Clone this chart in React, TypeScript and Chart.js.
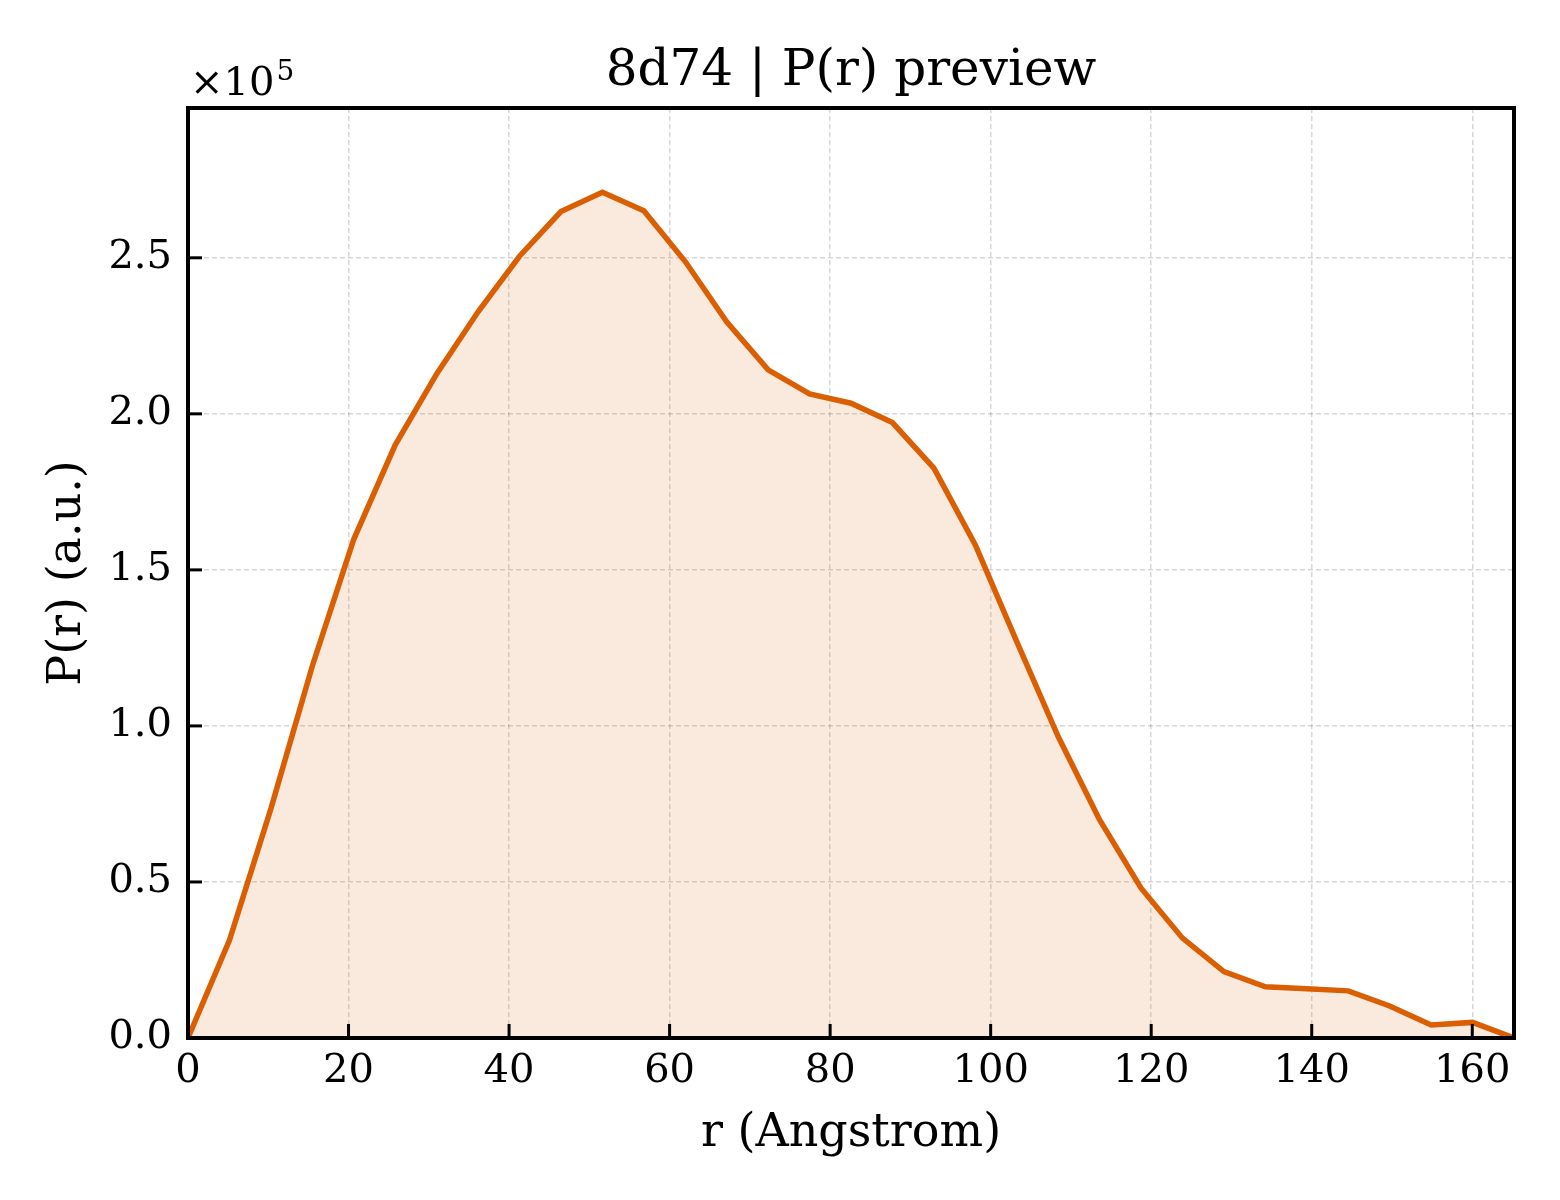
import { useEffect, useRef } from 'react';
import { Chart, registerables, type ChartConfiguration, type Plugin } from 'chart.js';

Chart.register(...registerables);

// r in Angstrom, P(r) in arbitrary units
const rValues = [
  0, 5.16, 10.33, 15.49, 20.65, 25.81, 30.98, 36.14, 41.3, 46.46, 51.63,
  56.79, 61.95, 67.11, 72.28, 77.44, 82.6, 87.76, 92.93, 98.09, 103.25,
  108.41, 113.58, 118.74, 123.9, 129.06, 134.23, 139.39, 144.55, 149.71,
  154.88, 160.04, 165.2,
];
const pValues = [
  0, 31300, 73500, 119200, 159800, 190000, 212800, 232700, 250500, 264800,
  271000, 265100, 248800, 229500, 214100, 206400, 203400, 197200, 182600,
  158000, 127000, 96600, 69900, 48000, 32000, 21250, 16400, 15800, 15100,
  10250, 4200, 5000, 0,
];
const xTicks = [0, 20, 40, 60, 80, 100, 120, 140, 160];
const yTicks = [0, 50000, 100000, 150000, 200000, 250000];

const TITLE = '8d74 | P(r) preview';
const X_LABEL = 'r (Angstrom)';
const Y_LABEL = 'P(r) (a.u.)';

const SERIF = '"DejaVu Serif", "Liberation Serif", serif';
const LINE_COLOR = '#d95f02';
const FILL_COLOR = 'rgba(217, 95, 2, 0.13)';
const GRID_COLOR = 'rgba(0, 0, 0, 0.16)';

// frame, inward ticks, title, axis labels and the x10^5 offset text
const decorations: Plugin<'line'> = {
  id: 'decorations',
  afterDraw(chart) {
    const { ctx, chartArea: area } = chart;
    const xs = chart.scales.x;
    const ys = chart.scales.y;
    ctx.save();
    ctx.strokeStyle = '#000';
    ctx.lineWidth = 3;
    xTicks.forEach((v) => {
      const px = xs.getPixelForValue(v);
      ctx.beginPath();
      ctx.moveTo(px, area.bottom);
      ctx.lineTo(px, area.bottom - 14);
      ctx.stroke();
    });
    yTicks.forEach((v) => {
      const py = ys.getPixelForValue(v);
      ctx.beginPath();
      ctx.moveTo(area.left, py);
      ctx.lineTo(area.left + 14, py);
      ctx.stroke();
    });
    ctx.lineWidth = 4;
    ctx.strokeRect(area.left, area.top, area.right - area.left, area.bottom - area.top);

    ctx.fillStyle = '#000';
    const cx = (area.left + area.right) / 2;
    ctx.textAlign = 'center';
    ctx.textBaseline = 'alphabetic';
    ctx.font = `50px ${SERIF}`;
    ctx.fillText(TITLE, cx, 85);
    ctx.font = `46px ${SERIF}`;
    ctx.fillText(X_LABEL, cx, 1146);
    ctx.save();
    ctx.translate(80, (area.top + area.bottom) / 2);
    ctx.rotate(-Math.PI / 2);
    ctx.fillText(Y_LABEL, 0, 0);
    ctx.restore();

    ctx.textAlign = 'left';
    ctx.font = `40px ${SERIF}`;
    ctx.fillText('×10', 190, 95);
    const w = ctx.measureText('×10').width;
    ctx.font = `28px ${SERIF}`;
    ctx.fillText('5', 190 + w + 2, 80);
    ctx.restore();
  },
};

export default function App() {
  const canvasRef = useRef<HTMLCanvasElement | null>(null);

  useEffect(() => {
    document.body.style.margin = '0';
    if (!canvasRef.current) return;

    const config: ChartConfiguration<'line'> = {
      type: 'line',
      data: {
        datasets: [
          {
            data: rValues.map((r, i) => ({ x: r, y: pValues[i] })),
            borderColor: LINE_COLOR,
            borderWidth: 5.5,
            backgroundColor: FILL_COLOR,
            fill: 'origin',
            pointRadius: 0,
            tension: 0,
          },
        ],
      },
      options: {
        animation: false,
        responsive: false,
        layout: { padding: { top: 108, right: 46, bottom: 0, left: 0 } },
        plugins: {
          legend: { display: false },
          tooltip: { enabled: false },
          title: { display: false },
        },
        scales: {
          x: {
            type: 'linear',
            min: 0,
            max: 165.2,
            afterBuildTicks: (scale) => {
              scale.ticks = xTicks.map((value) => ({ value }));
            },
            afterFit: (scale) => {
              scale.height = 162;
            },
            grid: { color: GRID_COLOR, lineWidth: 1.5, drawTicks: false },
            border: { display: false, dash: [5, 3] },
            ticks: {
              color: '#000',
              padding: 10,
              maxRotation: 0,
              font: { family: SERIF, size: 40 },
            },
          },
          y: {
            type: 'linear',
            min: 0,
            max: 298000,
            afterBuildTicks: (scale) => {
              scale.ticks = yTicks.map((value) => ({ value }));
            },
            afterFit: (scale) => {
              scale.width = 188;
            },
            grid: { color: GRID_COLOR, lineWidth: 1.5, drawTicks: false },
            border: { display: false, dash: [5, 3] },
            ticks: {
              color: '#000',
              padding: 16,
              font: { family: SERIF, size: 40 },
              callback: (value) => (Number(value) / 1e5).toFixed(1),
            },
          },
        },
      },
      plugins: [decorations],
    };

    const chart = new Chart(canvasRef.current, config);
    return () => {
      chart.destroy();
    };
  }, []);

  return (
    <div style={{ width: 1560, height: 1200, background: '#fff' }}>
      <canvas ref={canvasRef} width={1560} height={1200} />
    </div>
  );
}
